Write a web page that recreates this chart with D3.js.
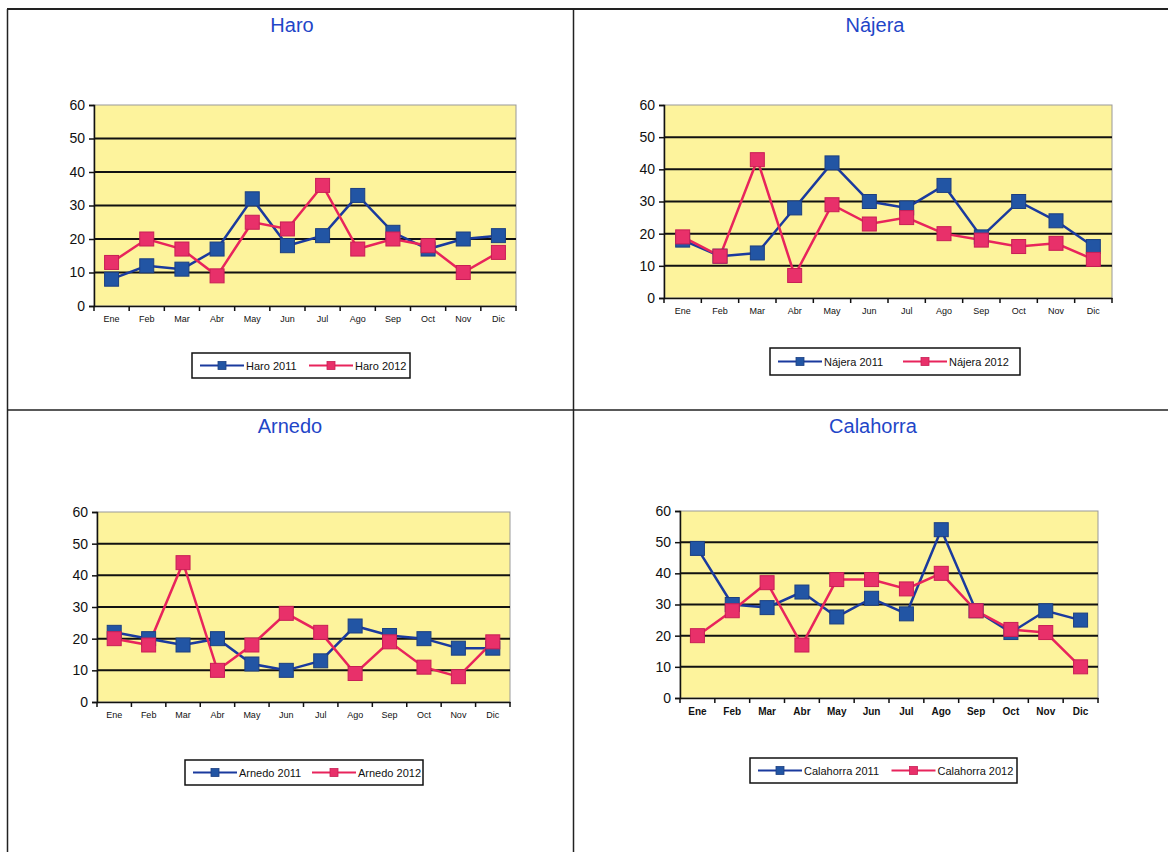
<!DOCTYPE html>
<html><head><meta charset="utf-8">
<script src="https://cdn.jsdelivr.net/npm/d3@7"></script>
<style>
html,body{margin:0;padding:0;background:#fff;}
svg{display:block;font-family:"Liberation Sans",Arial,sans-serif;}
</style></head>
<body>
<svg id="chart" width="1168" height="852"></svg>
<script>
const months = ["Ene","Feb","Mar","Abr","May","Jun","Jul","Ago","Sep","Oct","Nov","Dic"];
const yTicks = [0,10,20,30,40,50,60];

const haro2011 = [8,12,11,17,32,18,21,33,22,17,20,21];
const haro2012 = [13,20,17,9,25,23,36,17,20,18,10,16];
const najera2011 = [18,13,14,28,42,30,28,35,19,30,24,16];
const najera2012 = [19,13,43,7,29,23,25,20,18,16,17,12];
const arnedo2011 = [22,20,18,20,12,10,13,24,21,20,17,17];
const arnedo2012 = [20,18,44,10,18,28,22,9,19,11,8,19];
const calahorra2011 = [48,30,29,34,26,32,27,54,28,21,28,25];
const calahorra2012 = [20,28,37,17,38,38,35,40,28,22,21,10];

const titles = ["Haro","Nájera","Arnedo","Calahorra"];
const seriesNames = [["Haro 2011","Haro 2012"],["Nájera 2011","Nájera 2012"],["Arnedo 2011","Arnedo 2012"],["Calahorra 2011","Calahorra 2012"]];
const seriesData = [[haro2011,haro2012],[najera2011,najera2012],[arnedo2011,arnedo2012],[calahorra2011,calahorra2012]];

const svg = d3.select("#chart");

// panel frame
const frame = svg.append("g").attr("stroke","#222").attr("fill","none");
frame.append("line").attr("x1",7).attr("y1",9).attr("x2",1168).attr("y2",9).attr("stroke-width",2);
frame.append("line").attr("x1",7.5).attr("y1",9).attr("x2",7.5).attr("y2",852).attr("stroke-width",1.5);
frame.append("line").attr("x1",573.5).attr("y1",9).attr("x2",573.5).attr("y2",852).attr("stroke-width",1.5);
frame.append("line").attr("x1",7).attr("y1",410).attr("x2",1168).attr("y2",410).attr("stroke-width",1.5);

const layouts = [
  {tx:292, ty:32, l:94, r:516, t:105, b:306, lg:[192,353,410,378], xfs:9, bold:false},
  {tx:875, ty:32, l:664, r:1112, t:105, b:298, lg:[770,348,1020,375], xfs:9, bold:false},
  {tx:290, ty:433, l:97, r:510, t:512, b:702, lg:[185,760,423,785], xfs:9, bold:false},
  {tx:873, ty:433, l:680, r:1098, t:511, b:698, lg:[750,758,1017,783], xfs:10, bold:true}
];

const colors = ["#2255a4","#e8306a"];
const lineColors = ["#1a3a9e","#e8245c"];

layouts.forEach((L,i)=>{
  const g = svg.append("g");
  g.append("text").attr("x",L.tx).attr("y",L.ty).attr("text-anchor","middle")
    .attr("font-size",20).attr("fill","#1f46c8").text(titles[i]);

  const x = d3.scaleBand().domain(months).range([L.l,L.r]);
  const y = d3.scaleLinear().domain([0,60]).range([L.b,L.t]);

  g.append("rect").attr("x",L.l).attr("y",L.t).attr("width",L.r-L.l).attr("height",L.b-L.t)
    .attr("fill","#fdf39c").attr("stroke","#999").attr("stroke-width",1);

  g.selectAll(".grid").data(yTicks.filter(v=>v>0 && v<60)).join("line")
    .attr("x1",L.l).attr("x2",L.r).attr("y1",d=>y(d)).attr("y2",d=>y(d))
    .attr("stroke","#111").attr("stroke-width",2);

  const yAxis = g.append("g").attr("transform",`translate(${L.l},0)`)
    .call(d3.axisLeft(y).tickValues(yTicks).tickSize(5).tickPadding(4));
  yAxis.select(".domain").attr("stroke","#111").attr("stroke-width",1.5);
  yAxis.selectAll(".tick line").attr("stroke","#111").attr("stroke-width",1.5);
  yAxis.selectAll("text").attr("font-size",14).attr("fill","#111").attr("font-family","'Liberation Sans',Arial,sans-serif");

  const xAxis = g.append("g").attr("transform",`translate(0,${L.b})`)
    .call(d3.axisBottom(x).tickSize(0).tickPadding(10));
  xAxis.select(".domain").attr("stroke","#111").attr("stroke-width",1.5);
  xAxis.selectAll("text").attr("font-size",L.xfs).attr("fill","#111")
    .attr("font-weight",L.bold?"bold":"normal").attr("font-family","'Liberation Sans',Arial,sans-serif");
  // tick marks between categories
  g.selectAll(".xt").data(d3.range(months.length+1)).join("line")
    .attr("x1",d=>L.l+d*x.step()).attr("x2",d=>L.l+d*x.step())
    .attr("y1",L.b).attr("y2",L.b+5).attr("stroke","#111").attr("stroke-width",1.5);

  const line = d3.line().x((d,j)=>x(months[j])+x.bandwidth()/2).y(d=>y(d));
  seriesData[i].forEach((arr,s)=>{
    g.append("path").datum(arr).attr("d",line).attr("fill","none")
      .attr("stroke",lineColors[s]).attr("stroke-width",2.5);
  });
  seriesData[i].forEach((arr,s)=>{
    g.selectAll(".m"+s).data(arr).join("rect")
      .attr("x",(d,j)=>x(months[j])+x.bandwidth()/2-7).attr("y",d=>y(d)-7)
      .attr("width",14).attr("height",14)
      .attr("fill",colors[s]).attr("stroke",s===0?"#1c3f80":"#c81e55").attr("stroke-width",1);
  });

  // legend
  const [lx1,ly1,lx2,ly2] = L.lg;
  const lg = g.append("g");
  lg.append("rect").attr("x",lx1).attr("y",ly1).attr("width",lx2-lx1).attr("height",ly2-ly1)
    .attr("fill","#fff").attr("stroke","#111").attr("stroke-width",1.5);
  const cy = (ly1+ly2)/2;
  const half = (lx2-lx1)/2;
  [0,1].forEach(s=>{
    const sx = lx1 + 8 + s*half;
    lg.append("line").attr("x1",sx).attr("x2",sx+44).attr("y1",cy).attr("y2",cy)
      .attr("stroke",lineColors[s]).attr("stroke-width",2);
    lg.append("rect").attr("x",sx+18).attr("y",cy-4).attr("width",8).attr("height",8)
      .attr("fill",colors[s]).attr("stroke",s===0?"#1c3f80":"#c81e55").attr("stroke-width",0.8);
    lg.append("text").attr("x",sx+46).attr("y",cy+4).attr("font-size",11).attr("fill","#111")
      .text(seriesNames[i][s]);
  });
});
</script>
</body></html>
